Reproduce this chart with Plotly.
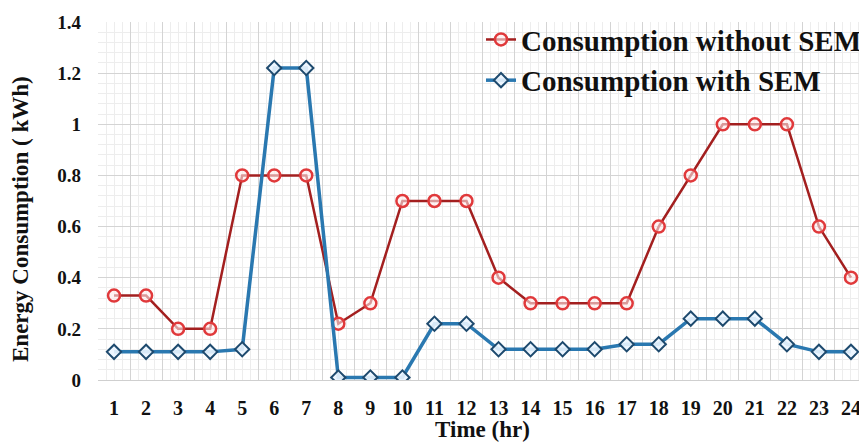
import plotly.graph_objects as go

hours = list(range(1, 25))
without_sem = [0.33, 0.33, 0.20, 0.20, 0.80, 0.80, 0.80, 0.22, 0.30, 0.70, 0.70, 0.70,
               0.40, 0.30, 0.30, 0.30, 0.30, 0.60, 0.80, 1.00, 1.00, 1.00, 0.60, 0.40]
with_sem = [0.11, 0.11, 0.11, 0.11, 0.12, 1.22, 1.22, 0.01, 0.01, 0.01, 0.22, 0.22,
            0.12, 0.12, 0.12, 0.12, 0.14, 0.14, 0.24, 0.24, 0.24, 0.14, 0.11, 0.11]
y_ticks = [0, 0.2, 0.4, 0.6, 0.8, 1, 1.2, 1.4]
y_tick_text = ["0", "0.2", "0.4", "0.6", "0.8", "1", "1.2", "1.4"]

font_family = "Liberation Serif"

fig = go.Figure()
fig.add_trace(go.Scatter(
    x=hours, y=without_sem, name="<b>Consumption without SEM</b>",
    mode="lines+markers",
    line=dict(color="#A31F1F", width=2.5),
    marker=dict(symbol="circle", size=12, color="rgba(255,235,235,0.6)",
                line=dict(color="#E0393B", width=2.5)),
))
fig.add_trace(go.Scatter(
    x=hours, y=with_sem, name="<b>Consumption with SEM</b>",
    mode="lines+markers",
    line=dict(color="#2A78B0", width=3.5),
    marker=dict(symbol="diamond", size=11, color="rgba(235,245,255,0.9)",
                line=dict(color="#1E4A6E", width=2)),
))
# empty helper trace so the label axis is drawn
fig.add_trace(go.Scatter(x=[], y=[], xaxis="x2", showlegend=False, hoverinfo="skip"))

# page has an 8px body margin, so the figure is sized 8px smaller
fig.update_layout(
    width=859, height=434,
    margin=dict(l=90, r=0, t=14, b=62),
    paper_bgcolor="white", plot_bgcolor="white",
    font=dict(family=font_family, color="#111111"),
    showlegend=True,
    legend=dict(x=1.0, y=1.022, xanchor="right", yanchor="top",
                bgcolor="rgba(0,0,0,0)", font=dict(size=29, family=font_family, color="#111111"),
                itemwidth=30, tracegroupgap=0),
    xaxis=dict(
        range=[0.5, 24.5], tick0=0.5, dtick=1, showticklabels=False,
        showgrid=True, gridcolor="#D4D4D4", gridwidth=1,
        minor=dict(dtick=0.25, showgrid=True, gridcolor="#EDEDED", gridwidth=1),
        zeroline=False, showline=True, linecolor="#CFCFCF", ticks="",
        automargin=False,
    ),
    xaxis2=dict(
        range=[0.5, 24.5], overlaying="x", side="bottom",
        tickmode="array", tickvals=hours, ticktext=[f"<b>{h}</b>" for h in hours],
        showgrid=False, zeroline=False, showline=False, ticks="",
        tickfont=dict(size=20, family=font_family, color="#111111"),
        ticklabelstandoff=14, automargin=False,
        title=dict(text="<b>Time (hr)</b>", font=dict(size=23, family=font_family), standoff=2),
    ),
    yaxis=dict(
        range=[0, 1.4], tickmode="array", tickvals=y_ticks,
        ticktext=[f"<b>{t}</b>" for t in y_tick_text],
        tickfont=dict(size=19, family=font_family, color="#111111"),
        showgrid=True, gridcolor="#D4D4D4", gridwidth=1,
        minor=dict(dtick=0.04, tick0=0, showgrid=True, gridcolor="#EDEDED", gridwidth=1),
        zeroline=False, showline=False, ticks="", ticklabelstandoff=16,
        automargin=False,
    ),
    annotations=[dict(
        text="<b>Energy Consumption ( kWh)</b>", textangle=-90,
        xref="paper", yref="paper", x=-0.1, y=0.45,
        xanchor="center", yanchor="middle", showarrow=False,
        font=dict(size=23, family=font_family, color="#111111"),
    )],
)

fig.write_html("out.html")
